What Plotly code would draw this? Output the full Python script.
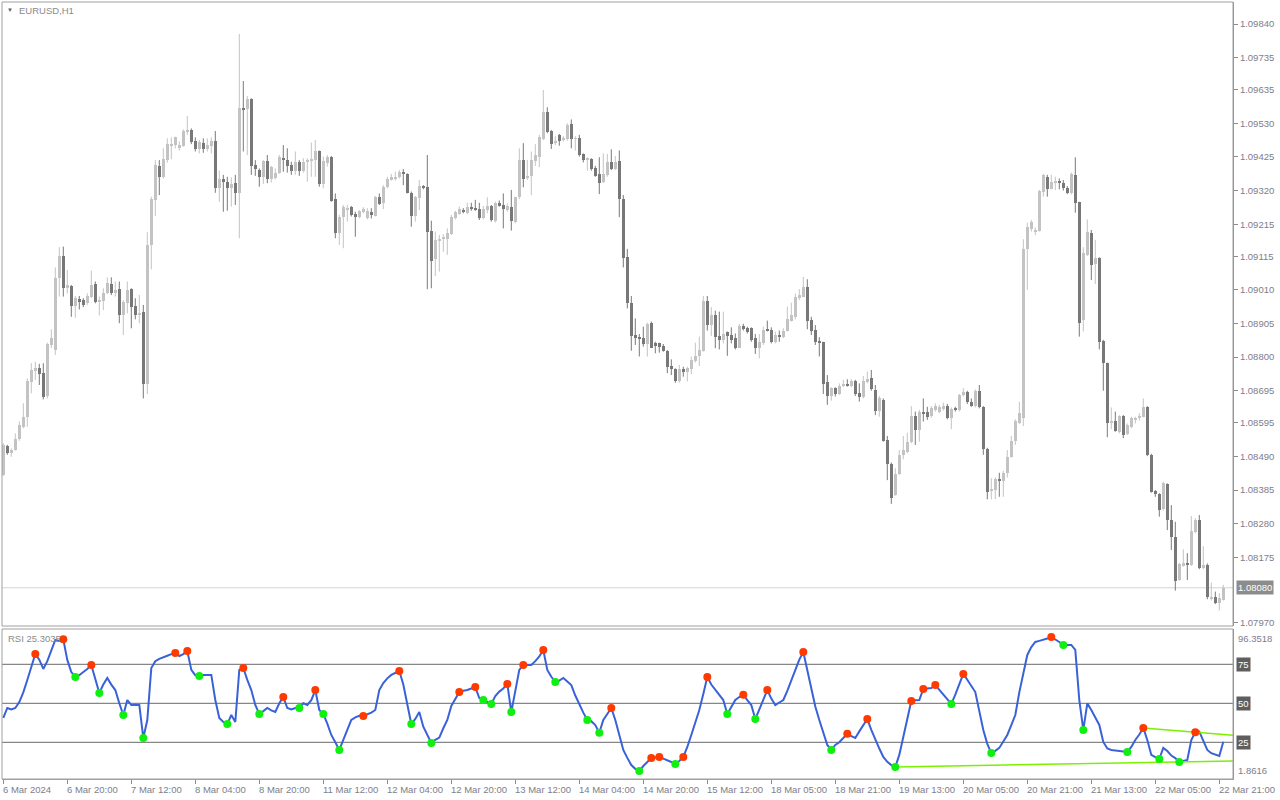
import plotly.graph_objects as go

# ---------------- data (EURUSD H1) ----------------
time_labels = ["6 Mar 2024", "6 Mar 20:00", "7 Mar 12:00", "8 Mar 04:00", "8 Mar 20:00",
               "11 Mar 12:00", "12 Mar 04:00", "12 Mar 20:00", "13 Mar 12:00", "14 Mar 04:00",
               "14 Mar 20:00", "15 Mar 12:00", "18 Mar 05:00", "18 Mar 21:00", "19 Mar 13:00",
               "20 Mar 05:00", "20 Mar 21:00", "21 Mar 13:00", "22 Mar 05:00", "22 Mar 21:00"]
time_label_bar = [0, 16, 32, 48, 64, 80, 96, 112, 128, 144, 160, 176, 192, 208, 224,
                  240, 256, 272, 288, 304]

price_ticks = [1.09840, 1.09735, 1.09635, 1.09530, 1.09425, 1.09320, 1.09215, 1.09115,
               1.09010, 1.08905, 1.08800, 1.08695, 1.08595, 1.08490, 1.08385, 1.08280,
               1.08175, 1.07970]
last_price = 1.08080

open_ = [1.08432,1.08523,1.08500,1.08510,1.08543,1.08581,1.08612,1.08723,1.08758,1.08765,
1.08749,1.08679,1.08838,1.08822,1.09046,1.09116,1.09017,1.09022,1.08960,1.08980,
1.08978,1.08970,1.08989,1.09028,1.08973,1.08976,1.08999,1.09028,1.08999,1.09012,
1.08930,1.08970,1.09012,1.08960,1.08932,1.08940,1.08715,1.09150,1.09291,1.09397,
1.09363,1.09415,1.09462,1.09462,1.09454,1.09459,1.09503,1.09509,1.09475,1.09450,
1.09468,1.09450,1.09459,1.09475,1.09329,1.09355,1.09346,1.09327,1.09345,1.09311,
1.09577,1.09574,1.09606,1.09400,1.09384,1.09363,1.09413,1.09357,1.09359,1.09374,
1.09423,1.09415,1.09400,1.09382,1.09410,1.09382,1.09410,1.09415,1.09415,1.09442,
1.09341,1.09407,1.09424,1.09294,1.09189,1.09237,1.09262,1.09268,1.09247,1.09237,
1.09254,1.09233,1.09252,1.09242,1.09301,1.09280,1.09330,1.09355,1.09355,1.09363,
1.09377,1.09372,1.09313,1.09242,1.09296,1.09332,1.09330,1.09194,1.09106,1.09164,
1.09169,1.09170,1.09184,1.09233,1.09247,1.09259,1.09249,1.09270,1.09267,1.09263,
1.09233,1.09259,1.09272,1.09226,1.09282,1.09275,1.09259,1.09270,1.09223,1.09299,
1.09416,1.09358,1.09366,1.09413,1.09426,1.09481,1.09564,1.09507,1.09468,1.09494,
1.09478,1.09480,1.09528,1.09481,1.09483,1.09434,1.09416,1.09419,1.09389,1.09371,
1.09347,1.09369,1.09410,1.09387,1.09412,1.09294,1.09113,1.08970,1.08869,1.08864,
1.08861,1.08841,1.08908,1.08845,1.08843,1.08836,1.08820,1.08773,1.08763,1.08724,
1.08763,1.08755,1.08762,1.08789,1.08802,1.08820,1.08975,1.08900,1.08932,1.08866,
1.08854,1.08878,1.08869,1.08859,1.08830,1.08897,1.08890,1.08890,1.08859,1.08828,
1.08843,1.08887,1.08885,1.08846,1.08869,1.08864,1.08883,1.08914,1.08924,1.08984,
1.08989,1.09018,1.08916,1.08885,1.08850,1.08846,1.08721,1.08679,1.08703,1.08684,
1.08710,1.08715,1.08711,1.08726,1.08687,1.08677,1.08723,1.08734,1.08697,1.08633,
1.08666,1.08541,1.08466,1.08370,1.08435,1.08495,1.08505,1.08534,1.08616,1.08573,
1.08629,1.08629,1.08616,1.08635,1.08630,1.08637,1.08647,1.08609,1.08639,1.08635,
1.08682,1.08690,1.08661,1.08647,1.08695,1.08645,1.08513,1.08383,1.08385,1.08419,
1.08414,1.08439,1.08489,1.08539,1.08595,1.08611,1.09137,1.09199,1.09192,1.09194,
1.09317,1.09363,1.09325,1.09346,1.09347,1.09345,1.09329,1.09311,1.09369,1.09283,
1.08916,1.09119,1.09186,1.09091,1.09108,1.08850,1.08781,1.08595,1.08601,1.08567,
1.08616,1.08560,1.08581,1.08606,1.08611,1.08614,1.08643,1.08495,1.08383,1.08373,
1.08325,1.08404,1.08292,1.08237,1.08104,1.08151,1.08156,1.08152,1.08255,1.08292,
1.08141,1.08151,1.08044,1.08052,1.08031,1.08042]

high = [1.08531,1.08526,1.08515,1.08562,1.08599,1.08656,1.08734,1.08781,1.08786,1.08779,
1.08781,1.08845,1.08887,1.09080,1.09143,1.09145,1.09072,1.09025,1.08991,1.08991,
1.08984,1.08999,1.09070,1.09036,1.08989,1.09015,1.09049,1.09049,1.09036,1.09036,
1.08978,1.09036,1.09015,1.08984,1.08994,1.08963,1.09190,1.09301,1.09415,1.09415,
1.09452,1.09483,1.09486,1.09488,1.09473,1.09511,1.09553,1.09514,1.09486,1.09478,
1.09483,1.09483,1.09486,1.09506,1.09382,1.09369,1.09363,1.09361,1.09369,1.09809,
1.09662,1.09615,1.09608,1.09415,1.09389,1.09415,1.09431,1.09397,1.09389,1.09431,
1.09462,1.09452,1.09410,1.09442,1.09415,1.09421,1.09421,1.09470,1.09478,1.09445,
1.09426,1.09431,1.09428,1.09311,1.09244,1.09275,1.09275,1.09272,1.09254,1.09259,
1.09268,1.09265,1.09265,1.09303,1.09311,1.09337,1.09363,1.09372,1.09379,1.09384,
1.09387,1.09374,1.09317,1.09303,1.09353,1.09337,1.09431,1.09226,1.09192,1.09181,
1.09184,1.09202,1.09244,1.09257,1.09270,1.09265,1.09282,1.09282,1.09291,1.09282,
1.09272,1.09299,1.09275,1.09285,1.09289,1.09311,1.09280,1.09322,1.09301,1.09452,
1.09468,1.09416,1.09442,1.09465,1.09494,1.09634,1.09580,1.09509,1.09490,1.09497,
1.09490,1.09530,1.09542,1.09490,1.09494,1.09436,1.09424,1.09421,1.09397,1.09424,
1.09436,1.09434,1.09449,1.09428,1.09445,1.09306,1.09138,1.08991,1.08921,1.08872,
1.08895,1.08908,1.08911,1.08848,1.08845,1.08841,1.08822,1.08793,1.08765,1.08776,
1.08770,1.08770,1.08802,1.08845,1.08864,1.08991,1.08991,1.08956,1.08945,1.08942,
1.08942,1.08880,1.08893,1.08874,1.08904,1.08904,1.08895,1.08893,1.08872,1.08872,
1.08895,1.08914,1.08893,1.08880,1.08883,1.08890,1.08958,1.08970,1.08999,1.09012,
1.09051,1.09043,1.08926,1.08900,1.08862,1.08848,1.08744,1.08706,1.08706,1.08718,
1.08729,1.08731,1.08731,1.08729,1.08718,1.08741,1.08755,1.08760,1.08713,1.08679,
1.08671,1.08554,1.08471,1.08453,1.08510,1.08554,1.08564,1.08647,1.08630,1.08635,
1.08671,1.08645,1.08647,1.08656,1.08651,1.08658,1.08654,1.08643,1.08645,1.08685,
1.08703,1.08695,1.08671,1.08699,1.08713,1.08647,1.08517,1.08422,1.08424,1.08439,
1.08445,1.08510,1.08554,1.08606,1.08661,1.09168,1.09220,1.09228,1.09205,1.09322,
1.09372,1.09369,1.09369,1.09363,1.09358,1.09353,1.09334,1.09376,1.09424,1.09285,
1.09143,1.09230,1.09197,1.09166,1.09112,1.08854,1.08783,1.08643,1.08630,1.08619,
1.08619,1.08593,1.08614,1.08614,1.08625,1.08671,1.08647,1.08498,1.08385,1.08375,
1.08411,1.08406,1.08338,1.08286,1.08158,1.08200,1.08188,1.08304,1.08297,1.08307,
1.08210,1.08156,1.08096,1.08068,1.08063,1.08089]

low = [1.08429,1.08495,1.08489,1.08508,1.08539,1.08578,1.08583,1.08687,1.08729,1.08713,
1.08668,1.08671,1.08828,1.08807,1.08989,1.08989,1.08999,1.08926,1.08923,1.08949,
1.08956,1.08963,1.08984,1.08968,1.08930,1.08947,1.08997,1.08994,1.08989,1.08906,
1.08869,1.08937,1.08890,1.08918,1.08906,1.08671,1.08685,1.09074,1.09241,1.09306,
1.09358,1.09407,1.09418,1.09452,1.09445,1.09457,1.09494,1.09465,1.09442,1.09436,
1.09438,1.09442,1.09436,1.09313,1.09285,1.09254,1.09257,1.09270,1.09275,1.09171,
1.09442,1.09431,1.09369,1.09366,1.09332,1.09341,1.09343,1.09345,1.09355,1.09372,
1.09379,1.09376,1.09369,1.09369,1.09366,1.09376,1.09348,1.09363,1.09363,1.09332,
1.09327,1.09395,1.09285,1.09171,1.09150,1.09140,1.09223,1.09239,1.09176,1.09233,
1.09249,1.09230,1.09233,1.09239,1.09275,1.09262,1.09327,1.09351,1.09351,1.09358,
1.09337,1.09311,1.09207,1.09223,1.09259,1.09324,1.09012,1.09015,1.09053,1.09067,
1.09129,1.09119,1.09181,1.09230,1.09244,1.09249,1.09247,1.09257,1.09257,1.09228,
1.09230,1.09249,1.09223,1.09220,1.09270,1.09202,1.09254,1.09195,1.09218,1.09293,
1.09330,1.09353,1.09306,1.09397,1.09393,1.09478,1.09499,1.09450,1.09462,1.09460,
1.09473,1.09476,1.09452,1.09445,1.09426,1.09408,1.09382,1.09382,1.09363,1.09309,
1.09343,1.09363,1.09384,1.09384,1.09237,1.09080,1.08952,1.08820,1.08838,1.08802,
1.08833,1.08802,1.08828,1.08812,1.08814,1.08817,1.08750,1.08744,1.08720,1.08720,
1.08739,1.08724,1.08747,1.08783,1.08772,1.08817,1.08883,1.08866,1.08828,1.08824,
1.08843,1.08804,1.08843,1.08824,1.08828,1.08883,1.08874,1.08848,1.08810,1.08796,
1.08838,1.08880,1.08843,1.08843,1.08848,1.08859,1.08880,1.08911,1.08918,1.08978,
1.08987,1.08887,1.08869,1.08838,1.08802,1.08685,1.08651,1.08664,1.08677,1.08682,
1.08706,1.08708,1.08706,1.08679,1.08661,1.08671,1.08718,1.08695,1.08619,1.08614,
1.08536,1.08416,1.08342,1.08367,1.08432,1.08481,1.08500,1.08531,1.08526,1.08536,
1.08599,1.08604,1.08611,1.08630,1.08625,1.08633,1.08606,1.08575,1.08630,1.08630,
1.08677,1.08654,1.08645,1.08643,1.08640,1.08495,1.08356,1.08356,1.08356,1.08364,
1.08364,1.08424,1.08486,1.08526,1.08591,1.08585,1.09010,1.09192,1.09181,1.09192,
1.09301,1.09301,1.09324,1.09322,1.09324,1.09320,1.09309,1.09308,1.09251,1.08864,
1.08880,1.09116,1.09041,1.09028,1.08824,1.08695,1.08550,1.08575,1.08567,1.08562,
1.08547,1.08557,1.08578,1.08593,1.08602,1.08612,1.08491,1.08377,1.08364,1.08302,
1.08321,1.08260,1.08198,1.08071,1.08102,1.08146,1.08104,1.08148,1.08250,1.08138,
1.08138,1.08044,1.08040,1.08029,1.08009,1.08040]

close = [1.08526,1.08500,1.08510,1.08543,1.08588,1.08612,1.08725,1.08760,1.08765,1.08747,
1.08677,1.08841,1.08859,1.09046,1.09116,1.09017,1.09025,1.08960,1.08986,1.08973,
1.08963,1.08991,1.09025,1.08973,1.08978,1.08999,1.09030,1.08999,1.09010,1.08930,
1.08971,1.09010,1.08958,1.08932,1.08937,1.08716,1.09150,1.09294,1.09400,1.09363,
1.09418,1.09465,1.09465,1.09486,1.09462,1.09507,1.09506,1.09473,1.09450,1.09473,
1.09450,1.09461,1.09476,1.09329,1.09355,1.09348,1.09327,1.09341,1.09311,1.09578,
1.09574,1.09606,1.09398,1.09388,1.09363,1.09413,1.09357,1.09395,1.09374,1.09426,
1.09418,1.09398,1.09382,1.09410,1.09382,1.09410,1.09415,1.09419,1.09442,1.09341,
1.09413,1.09424,1.09289,1.09189,1.09239,1.09268,1.09267,1.09244,1.09237,1.09256,
1.09262,1.09257,1.09244,1.09301,1.09278,1.09332,1.09356,1.09361,1.09363,1.09377,
1.09374,1.09313,1.09242,1.09299,1.09334,1.09329,1.09192,1.09101,1.09166,1.09170,
1.09173,1.09187,1.09239,1.09252,1.09263,1.09252,1.09268,1.09263,1.09261,1.09233,
1.09261,1.09272,1.09228,1.09280,1.09273,1.09261,1.09272,1.09226,1.09299,1.09416,
1.09357,1.09367,1.09416,1.09431,1.09488,1.09566,1.09504,1.09465,1.09476,1.09476,
1.09483,1.09525,1.09481,1.09483,1.09431,1.09416,1.09421,1.09387,1.09367,1.09345,
1.09372,1.09410,1.09387,1.09410,1.09293,1.09111,1.08970,1.08866,1.08861,1.08857,
1.08841,1.08904,1.08830,1.08836,1.08833,1.08820,1.08770,1.08762,1.08724,1.08763,
1.08755,1.08765,1.08791,1.08804,1.08822,1.08975,1.08900,1.08932,1.08864,1.08852,
1.08872,1.08866,1.08852,1.08830,1.08897,1.08887,1.08880,1.08854,1.08828,1.08846,
1.08885,1.08883,1.08846,1.08869,1.08862,1.08883,1.08918,1.08932,1.08987,1.08994,
1.09018,1.08914,1.08883,1.08848,1.08846,1.08716,1.08679,1.08703,1.08684,1.08710,
1.08715,1.08711,1.08726,1.08684,1.08675,1.08726,1.08733,1.08699,1.08633,1.08671,
1.08539,1.08465,1.08359,1.08435,1.08495,1.08510,1.08534,1.08616,1.08573,1.08630,
1.08625,1.08614,1.08640,1.08647,1.08645,1.08647,1.08609,1.08637,1.08635,1.08682,
1.08692,1.08659,1.08647,1.08695,1.08645,1.08513,1.08380,1.08387,1.08419,1.08414,
1.08439,1.08489,1.08539,1.08602,1.08625,1.09137,1.09205,1.09223,1.09197,1.09319,
1.09369,1.09325,1.09348,1.09350,1.09345,1.09327,1.09311,1.09372,1.09280,1.08908,
1.09124,1.09192,1.09088,1.09108,1.08848,1.08781,1.08595,1.08601,1.08570,1.08616,
1.08557,1.08588,1.08609,1.08611,1.08614,1.08643,1.08495,1.08380,1.08373,1.08323,
1.08408,1.08292,1.08237,1.08102,1.08154,1.08156,1.08152,1.08258,1.08292,1.08141,
1.08151,1.08050,1.08052,1.08031,1.08049,1.08080]

rsi = [40.6,47,46,47,50.8,57,64.9,73,81.6,78,
72,77,84,90.6,90,91,77.8,70,66.9,68,
70.1,72,74.6,65,56.6,62,66.2,62,58.5,50,
42.5,52.1,48.9,49,48.9,27.8,39.3,72.6,77,78.5,
79.7,80.5,81.5,82.2,80.3,81.5,83.5,71.4,68,67.5,
68.2,68.2,68.2,52.1,40.6,38,36.7,42.5,38,71.4,
72.6,65,58.5,48.9,43.1,45,47,45.5,44.4,50,
54,47,46,47,47,50,48.9,52,58.5,45.7,
43.1,37,29.7,25,20.1,26.5,33,39.3,41,42,
41.9,43,44,45.7,58.5,63,66,68.2,69.5,70.7,
62,50,36.7,40,44.4,35,30,24.6,26.5,28,
34,39.3,48.3,53,57.2,58,58.5,59.5,60.4,53.4,
52.1,51,49.6,54.7,57.5,59.5,62.4,44.4,58.5,71.4,
74.6,74.6,74.6,77,80,84.2,71.4,67,63.7,64.5,
66.2,64,61.7,55,48.9,44,39.3,38.5,36,31.1,
39.3,43,47,39.3,30,20.1,15,10.4,8,6.6,
9.8,12.5,14.9,15.2,15.6,14.5,13.7,12.4,11.1,13,
15.6,22,29.7,37,45.7,56,66.9,62,58.5,55,
52.1,43.1,48,52.1,54,55.5,52,48.9,39.9,46,
52.1,58.5,53,48.9,50.5,52.1,58,65,72,78,
82.9,71,58.5,48,39.3,31,23.3,20.1,23.3,25,
27.8,30.5,29,27.8,32,36.1,39.9,33,26.5,21,
15.6,12.5,10.4,9.2,16.9,28,39.3,51.5,52,52.1,
59.2,59.5,59.8,61.7,58.5,55.5,52.5,49.6,55.5,62,
68.8,65.1,61,57.2,45,32.9,24,18.1,19.5,21.4,
25.5,29.7,36,42.5,57,70,81,86,89.3,90,
90.6,91.5,92.5,91,89.3,87.4,87.4,87.4,84.2,52.1,
32.9,50,45.7,41,36.1,25.2,21,20.1,19.7,19.4,
19,18.8,22,26.5,30,34.2,26.5,16.9,15.5,14.3,
21.4,19.4,16.5,14.9,12.4,13,13.7,26.5,31.5,31.8,
26.5,20.1,18,16.9,16.2,25.3035]

rsi_peak_bars = [8, 15, 22, 43, 46, 60, 70, 78, 90, 99, 114, 118, 126, 130, 135, 152, 162, 164,
                 170, 176, 185, 191, 200, 211, 216, 227, 230, 233, 240, 262, 285, 298]
rsi_trough_bars = [18, 24, 30, 35, 49, 56, 64, 74, 80, 84, 102, 107, 120, 122, 127, 138, 146, 149,
                   159, 168, 181, 188, 207, 223, 237, 247, 265, 270, 281, 289, 294]
rsi_upper_trend = [285, 298]
rsi_lower_trend = [223, 294]
rsi_levels = [75, 50, 25]
rsi_max = 96.3518
rsi_min = 1.8616

# ---------------- geometry / style ----------------
W, H = 1280, 800
PX_L, PX_R, PX_T, PX_B = 2, 1233, 2, 779
MAIN_BOTTOM_PX, RSI_TOP_PX = 626, 629
PLOT_W, PLOT_H = PX_R - PX_L, PX_B - PX_T
BAR_PX, FIRST_BAR_PX = 4.0, 3.3
x_lo = -(FIRST_BAR_PX - PX_L) / BAR_PX
x_hi = x_lo + PLOT_W / BAR_PX

def pyp(p):
    return (PX_B - p) / PLOT_H

def pxp(p):
    return (p - PX_L) / PLOT_W

main_dom = [pyp(MAIN_BOTTOM_PX), 1.0]
rsi_dom = [0.0, pyp(RSI_TOP_PX)]
price_range = [1.079606, 1.099087]
rsi_range = [1.47, 97.63]

FONT = "Liberation Sans, Arial, sans-serif"
TXT = "#7d7d8c"
BULL = "#c3c3c3"
BEAR = "#787878"
FRAME = "#a0a0a0"

N = len(close)
bars = list(range(N))
bull = [i for i in bars if close[i] >= open_[i]]
bear = [i for i in bars if close[i] < open_[i]]

fig = go.Figure()

for sel, col in ((bull, BULL), (bear, BEAR)):
    xs, ys = [], []
    for i in sel:
        xs += [i, i, None]
        ys += [low[i], high[i], None]
    fig.add_trace(go.Scatter(x=xs, y=ys, mode="lines", line=dict(color=col, width=1),
                             xaxis="x", yaxis="y", hoverinfo="skip"))

MIN_BODY = 0.00003
fig.add_trace(go.Bar(
    x=bars,
    y=[max(abs(close[i] - open_[i]), MIN_BODY) for i in bars],
    base=[min(close[i], open_[i]) for i in bars],
    width=0.75,
    marker=dict(color=[BULL if close[i] >= open_[i] else BEAR for i in bars], line=dict(width=0)),
    xaxis="x", yaxis="y", hoverinfo="skip"))

# RSI
fig.add_trace(go.Scatter(x=bars, y=rsi, mode="lines", line=dict(color="#3a62d8", width=2),
                         xaxis="x", yaxis="y2", hoverinfo="skip"))

for a, b in (rsi_upper_trend, rsi_lower_trend):
    slope = (rsi[b] - rsi[a]) / (b - a)
    fig.add_trace(go.Scatter(x=[a, x_hi], y=[rsi[a], rsi[a] + slope * (x_hi - a)], mode="lines",
                             line=dict(color="#7cf000", width=1.5), xaxis="x", yaxis="y2",
                             hoverinfo="skip"))

fig.add_trace(go.Scatter(x=rsi_peak_bars, y=[rsi[i] for i in rsi_peak_bars], mode="markers",
                         marker=dict(color="#ff3a00", size=8), xaxis="x", yaxis="y2",
                         hoverinfo="skip"))
fig.add_trace(go.Scatter(x=rsi_trough_bars, y=[rsi[i] for i in rsi_trough_bars], mode="markers",
                         marker=dict(color="#10f010", size=8), xaxis="x", yaxis="y2",
                         hoverinfo="skip"))

shapes = [
    dict(type="rect", xref="paper", yref="paper", x0=0, x1=1, y0=main_dom[0], y1=1,
         line=dict(color=FRAME, width=1), layer="above"),
    dict(type="rect", xref="paper", yref="paper", x0=0, x1=1, y0=0, y1=rsi_dom[1],
         line=dict(color=FRAME, width=1), layer="above"),
    dict(type="line", xref="paper", yref="y", x0=0, x1=1, y0=last_price, y1=last_price,
         line=dict(color="#d4d4d4", width=1), layer="below"),
]
for lv in rsi_levels:
    shapes.append(dict(type="line", xref="paper", yref="y2", x0=0, x1=1, y0=lv, y1=lv,
                       line=dict(color="#6a6a6a", width=1), layer="below"))

ann = []
for b, t in zip(time_label_bar, time_labels):
    ann.append(dict(x=b, y=0, xref="x", yref="paper", text=t, showarrow=False,
                    xanchor="left", yanchor="top", xshift=-2, yshift=-3,
                    font=dict(family=FONT, size=9.5, color=TXT)))
ann.append(dict(x=pxp(5), y=pyp(10), xref="paper", yref="paper", text="▼", showarrow=False,
                xanchor="left", yanchor="middle", font=dict(family=FONT, size=6, color="#606060")))
ann.append(dict(x=pxp(17), y=pyp(10), xref="paper", yref="paper", text="EURUSD,H1",
                showarrow=False, xanchor="left", yanchor="middle",
                font=dict(family=FONT, size=9.5, color="#8a8a8a")))
ann.append(dict(x=pxp(6), y=pyp(638), xref="paper", yref="paper",
                text="RSI %.4f" % rsi[-1], showarrow=False, xanchor="left", yanchor="middle",
                font=dict(family=FONT, size=9.5, color="#8a8a8a")))
ann.append(dict(x=1, y=last_price, xref="paper", yref="y", text="%.5f" % last_price,
                showarrow=False, xanchor="left", yanchor="middle", xshift=3,
                bgcolor="#8c8c8c", borderpad=1,
                font=dict(family=FONT, size=9.5, color="#ffffff")))
for lv in rsi_levels:
    ann.append(dict(x=1, y=lv, xref="paper", yref="y2", text=str(lv), showarrow=False,
                    xanchor="left", yanchor="middle", xshift=3, bgcolor="#5e5e5e",
                    borderpad=1, font=dict(family=FONT, size=9.5, color="#ffffff")))
ann.append(dict(x=1, y=rsi_max, xref="paper", yref="y2", text="%.4f" % rsi_max,
                showarrow=False, xanchor="left", yanchor="top", xshift=3,
                font=dict(family=FONT, size=9.5, color=TXT)))
ann.append(dict(x=1, y=rsi_min, xref="paper", yref="y2", text="%.4f" % rsi_min,
                showarrow=False, xanchor="left", yanchor="bottom", xshift=3,
                font=dict(family=FONT, size=9.5, color=TXT)))

fig.update_layout(
    width=W, height=H,
    margin=dict(l=PX_L, r=W - PX_R, t=PX_T, b=H - PX_B, pad=0),
    paper_bgcolor="white", plot_bgcolor="white",
    showlegend=False, bargap=0,
    xaxis=dict(domain=[0, 1], range=[x_lo, x_hi], anchor="y2", showgrid=False,
               zeroline=False, showline=True, linecolor=FRAME, linewidth=1,
               tickmode="array", tickvals=time_label_bar, ticks="outside", ticklen=4,
               tickcolor="#8c8c8c", showticklabels=False, fixedrange=True),
    yaxis=dict(domain=main_dom, range=price_range, anchor="x", side="right",
               showgrid=False, zeroline=False, showline=True, linecolor="#8c8c8c",
               linewidth=1, tickmode="array", tickvals=price_ticks,
               ticktext=["%.5f" % v for v in price_ticks], ticks="outside", ticklen=4,
               tickcolor="#8c8c8c", tickfont=dict(family=FONT, size=9.5, color=TXT)),
    yaxis2=dict(domain=rsi_dom, range=rsi_range, anchor="x", side="right",
                showgrid=False, zeroline=False, showline=True, linecolor="#8c8c8c",
                linewidth=1, showticklabels=False, ticks=""),
    shapes=shapes, annotations=ann,
)

fig.write_html("out.html", config={"displayModeBar": False},
               post_script="document.body.style.margin='0';document.body.style.overflow='hidden';")
